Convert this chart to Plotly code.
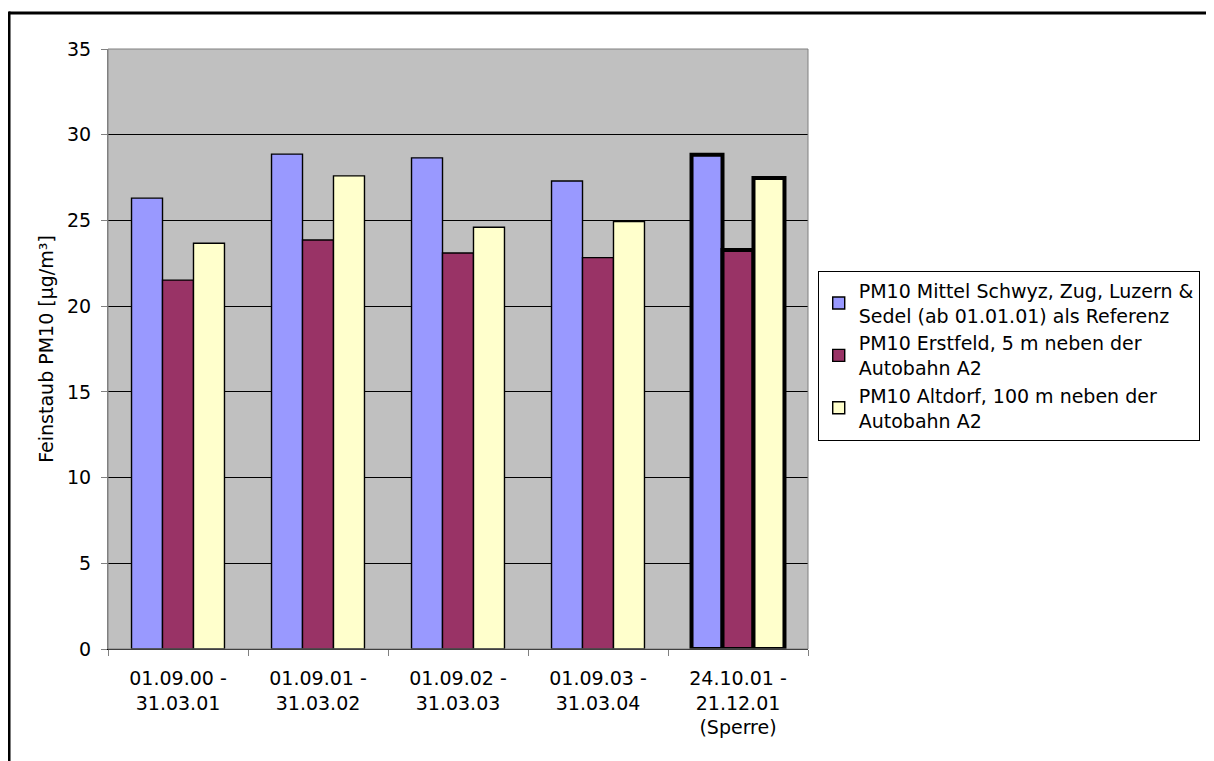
import plotly.graph_objects as go

categories = ["01.09.00 -<br>31.03.01", "01.09.01 -<br>31.03.02", "01.09.02 -<br>31.03.03",
              "01.09.03 -<br>31.03.04", "24.10.01 -<br>21.12.01<br>(Sperre)"]
series_names = ["PM10 Mittel Schwyz, Zug, Luzern &<br>Sedel (ab 01.01.01) als Referenz",
                "PM10 Erstfeld, 5 m neben der<br>Autobahn A2",
                "PM10 Altdorf, 100 m neben der<br>Autobahn A2"]
mittel = [26.3, 28.87, 28.65, 27.3, 28.83]
erstfeld = [21.52, 23.86, 23.1, 22.83, 23.28]
altdorf = [23.67, 27.6, 24.6, 24.93, 27.48]
colors = ["#9999FF", "#993366", "#FFFFCC"]
line_widths = [1.4, 1.4, 1.4, 1.4, 4]

FONT = "DejaVu Sans, Verdana, sans-serif"
fig = go.Figure()
for name, vals, col in zip(series_names, [mittel, erstfeld, altdorf], colors):
    fig.add_trace(go.Bar(x=categories, y=vals, name=name,
                         marker=dict(color=col, line=dict(color="black", width=line_widths))))

fig.update_layout(
    width=1214, height=761,
    margin=dict(l=100, r=414, t=41, b=120),
    paper_bgcolor="white", plot_bgcolor="#C0C0C0",
    barmode="group", bargap=0.336, bargroupgap=0,
    font=dict(family=FONT, size=19, color="black"),
    showlegend=True,
    legend=dict(x=1.0139, y=0.6304, xanchor="left", yanchor="top",
                bordercolor="black", borderwidth=1, bgcolor="white",
                font=dict(family=FONT, size=19), tracegroupgap=0),
    xaxis=dict(tickson="boundaries", ticks="outside", ticklen=6, tickcolor="#808080",
               showline=True, linecolor="black", linewidth=1, showgrid=False,
               ticklabelstandoff=12, tickfont=dict(size=19)),
    yaxis=dict(range=[0, 35], dtick=5, ticks="outside", ticklen=6, tickcolor="#808080",
               showline=True, linecolor="#808080", linewidth=1,
               showgrid=True, gridcolor="black", gridwidth=1, zeroline=False,
               ticklabelstandoff=6, tickfont=dict(size=19),
               title=dict(text="Feinstaub PM10 [µg/m³]", font=dict(size=19), standoff=8)),
)
# plot area border
fig.add_shape(type="rect", xref="paper", yref="paper", x0=0, x1=1, y0=0, y1=1,
              line=dict(color="#808080", width=1), layer="above")
# outer chart border (top and left, open to the right and bottom as in the reference)
fig.add_shape(type="line", xref="paper", yref="paper", x0=-0.1414, x1=1.7, y0=1.0601, y1=1.0601,
              line=dict(color="black", width=3))
fig.add_shape(type="line", xref="paper", yref="paper", x0=-0.1414, x1=-0.1414, y0=-0.25, y1=1.0626,
              line=dict(color="black", width=3))

fig.write_html("out.html")
